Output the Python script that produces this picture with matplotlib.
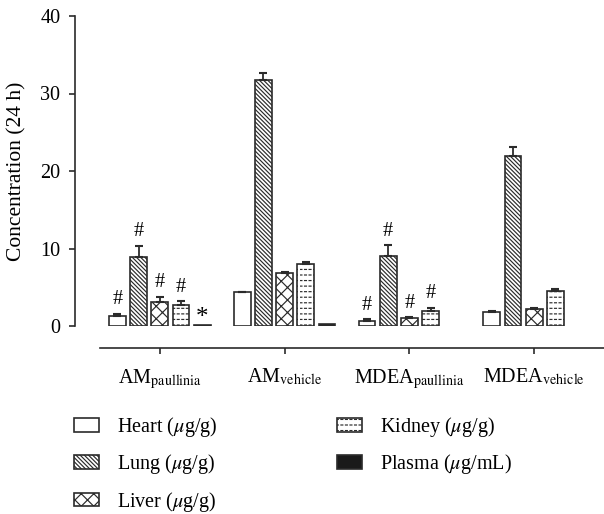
import warnings
import numpy as np
import matplotlib
matplotlib.use("Agg")
import matplotlib.pyplot as plt
from matplotlib import hatch as mhatch
from matplotlib.path import Path

warnings.filterwarnings("ignore")

plt.rcParams['font.family'] = ['Liberation Serif', 'DejaVu Serif']
plt.rcParams['mathtext.fontset'] = 'stix'
plt.rcParams['font.size'] = 14.5
plt.rcParams['hatch.linewidth'] = 0.85

# data
groups = [r'AM$_{\rm paullinia}$', r'AM$_{\rm vehicle}$',
          r'MDEA$_{\rm paullinia}$', r'MDEA$_{\rm vehicle}$']
heart = [1.3, 4.35, 0.7, 1.85]
heart_err = [0.3, 0.1, 0.15, 0.12]
lung = [8.85, 31.7, 9.05, 21.95]
lung_err = [1.5, 1.0, 1.35, 1.15]
liver = [3.15, 6.9, 1.0, 2.15]
liver_err = [0.65, 0.12, 0.12, 0.13]
kidney = [2.65, 7.95, 1.95, 4.55]
kidney_err = [0.55, 0.35, 0.42, 0.25]
plasma = [0.15, 0.3, np.nan, np.nan]
plasma_err = [0.0, 0.0, 0.0, 0.0]

series = ['Heart ($\\mu$g/g)', 'Lung ($\\mu$g/g)', 'Liver ($\\mu$g/g)',
          'Kidney ($\\mu$g/g)', 'Plasma ($\\mu$g/mL)']
# significance marks per series per group
marks = [['#', '', '#', ''],
         ['#', '', '#', ''],
         ['#', '', '#', ''],
         ['#', '', '#', ''],
         ['*', '', '', '']]


class DashRows(mhatch.HatchPatternBase):
    """Rows of short horizontal dashes (kidney bars), hatch char '_'."""
    def __init__(self, hatch, density):
        self.rows = hatch.count('_') * 18
        self.cols = hatch.count('_') * 22
        self.num_vertices = self.rows * self.cols * 2

    def set_vertices_and_codes(self, vertices, codes):
        ys = (np.arange(self.rows) + 0.5) / self.rows
        xs = np.arange(self.cols) / self.cols
        dl = 0.42 / self.cols
        k = 0
        for y in ys:
            for x in xs:
                vertices[k] = (x, y)
                vertices[k + 1] = (x + dl, y)
                codes[k] = Path.MOVETO
                codes[k + 1] = Path.LINETO
                k += 2


class WideCross(mhatch.HatchPatternBase):
    """Diagonal cross, spacing between 'x' and 'xx' (liver bars), char 'c'."""
    def __init__(self, hatch, density):
        self.n = hatch.count('c') * 16
        self.num_vertices = (self.n + 1) * 4 if self.n else 0

    def set_vertices_and_codes(self, vertices, codes):
        steps = np.linspace(-0.5, 0.5, self.n + 1)
        m = self.n + 1
        v1 = vertices[:2 * m]
        v2 = vertices[2 * m:]
        v1[0::2, 0] = 0.0 + steps
        v1[0::2, 1] = 0.0 - steps
        v1[1::2, 0] = 1.0 + steps
        v1[1::2, 1] = 1.0 - steps
        v2[0::2, 0] = 0.0 + steps
        v2[0::2, 1] = 1.0 + steps
        v2[1::2, 0] = 1.0 + steps
        v2[1::2, 1] = 0.0 + steps
        codes[0::2] = Path.MOVETO
        codes[1::2] = Path.LINETO


mhatch._hatch_types.append(DashRows)
mhatch._hatch_types.append(WideCross)

values = [heart, lung, liver, kidney, plasma]
errs = [heart_err, lung_err, liver_err, kidney_err, plasma_err]
faces = ['white', 'white', 'white', 'white', '#1a1a1a']
hatches = [None, '\\' * 8, 'c', '_', None]
edge = '#2b2b2b'

fig = plt.figure(figsize=(6.04, 5.14), dpi=100)
ax = fig.add_axes([75 / 604, 1 - 326 / 514, 1 - 75 / 604, 310 / 514])

x = np.arange(len(groups))
step = 0.17
width = 0.135
for i, (vals, er) in enumerate(zip(values, errs)):
    pos = x + (i - 2) * step
    vals = np.array(vals, dtype=float)
    ax.bar(pos, vals, width, color=faces[i], edgecolor=edge, linewidth=1.2,
           hatch=hatches[i], label=series[i], zorder=2)
    er = np.array(er)
    ok = ~np.isnan(vals) & (er > 0)
    ax.errorbar(pos[ok], vals[ok], yerr=[np.zeros(ok.sum()), er[ok]], fmt='none',
                ecolor=edge, elinewidth=1.3, capsize=3.2, capthick=1.5, zorder=3)
    for j, m in enumerate(marks[i]):
        if m:
            top = vals[j] + er[j]
            if m == '*':
                ax.text(pos[j], top - 0.6, m, ha='center', va='bottom', fontsize=18)
            else:
                ax.text(pos[j], top + 0.6, m, ha='center', va='bottom', fontsize=14.5)

ax.set_ylim(0, 40)
ax.set_yticks([0, 10, 20, 30, 40])
ax.set_xlim(-0.68, 3.56)
ax.set_xticks(x)
ax.set_xticklabels(groups)
ax.set_ylabel('Concentration (24 h)', fontsize=15.5, labelpad=10)

for s in ['top', 'right']:
    ax.spines[s].set_visible(False)
ax.spines['left'].set_bounds(0, 40)
ax.spines['bottom'].set_position(('outward', 16))
ax.spines['bottom'].set_bounds(-0.48, 3.56)
for s in ['left', 'bottom']:
    ax.spines[s].set_linewidth(1.2)
    ax.spines[s].set_color(edge)
ax.tick_params(axis='both', direction='out', length=4.5, width=1.2, color=edge,
               labelsize=14.5)
ax.tick_params(axis='x', pad=9)
ax.tick_params(axis='y', pad=6)

fig.legend(loc='upper left', bbox_to_anchor=(74 / 604, 1 - 415 / 514), ncol=2,
           frameon=False, borderpad=0, borderaxespad=0, handlelength=1.25,
           handleheight=0.65, handletextpad=0.9, labelspacing=0.66,
           columnspacing=5.9, fontsize=14.5)

fig.savefig('out.png', dpi=100)
